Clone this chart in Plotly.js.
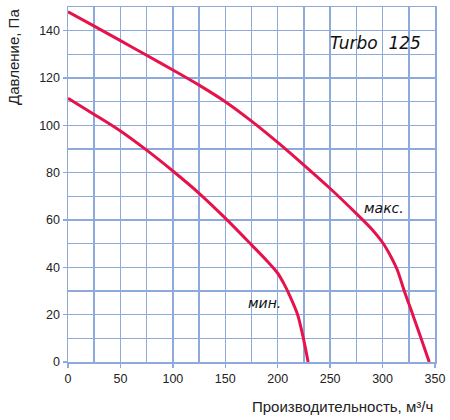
<!DOCTYPE html>
<html>
<head>
<meta charset="utf-8">
<script src="https://cdn.plot.ly/plotly-3.0.1.min.js"></script>
<style>html,body{margin:0;padding:0;background:#fff;}#chart{width:450px;height:420px;}</style>
</head>
<body>
<div id="chart"></div>
<script>
const maxFlow = [0, 25, 50, 75, 100, 125, 150, 175, 200, 225, 250, 275, 290, 300, 308, 314, 320.7, 328.8, 336.7, 344.5];
const maxPressure = [148, 141.9, 135.8, 129.6, 123.4, 117, 110, 101.8, 92.8, 83.2, 73.3, 62.7, 56, 50.5, 44.5, 39, 30, 20, 10, 0];
const minFlow = [0, 25, 50, 75, 100, 125, 150, 175, 190, 200, 206, 211, 219, 224.5, 229];
const minPressure = [111.4, 104.6, 97.6, 89.5, 80.7, 71.3, 60.8, 49.5, 42.6, 37.5, 33, 28.5, 20, 10, 0];
const xTicks = [0, 50, 100, 150, 200, 250, 300, 350];
const yTicks = [0, 20, 40, 60, 80, 100, 120, 140];

const lineColor = '#e6134b';
const gridColor = '#8eaadc';

const traces = [
  {x: maxFlow, y: maxPressure, mode: 'lines', line: {color: lineColor, width: 3, shape: 'spline', smoothing: 0.8}, hoverinfo: 'skip'},
  {x: minFlow, y: minPressure, mode: 'lines', line: {color: lineColor, width: 3, shape: 'spline', smoothing: 0.8}, hoverinfo: 'skip'}
];

const layout = {
  width: 450, height: 420,
  margin: {l: 68, r: 15, t: 7, b: 58},
  paper_bgcolor: '#fff', plot_bgcolor: '#fff',
  showlegend: false,
  font: {family: 'Liberation Sans, Arial, sans-serif', color: '#222', size: 12.5},
  xaxis: {
    range: [0, 350], tickvals: xTicks, ticktext: xTicks.map(String),
    showgrid: true, gridcolor: gridColor, gridwidth: 1.5,
    showline: true, linecolor: gridColor, linewidth: 1.5, mirror: true,
    ticks: 'outside', ticklen: 4, tickcolor: gridColor, tickwidth: 1.5,
    zeroline: false, fixedrange: true,
    minor: {dtick: 25, showgrid: true, gridcolor: gridColor, gridwidth: 1.5}
  },
  yaxis: {
    range: [0, 150], tickvals: yTicks, ticktext: yTicks.map(String),
    showgrid: true, gridcolor: gridColor, gridwidth: 1.5,
    showline: true, linecolor: gridColor, linewidth: 1.5, mirror: true,
    ticks: 'outside', ticklen: 4, tickcolor: gridColor, tickwidth: 1.5,
    zeroline: false, fixedrange: true,
    minor: {dtick: 10, showgrid: true, gridcolor: gridColor, gridwidth: 1.5}
  },
  annotations: [
    {text: 'Turbo&nbsp;&nbsp;125', x: 293, y: 134.7, xref: 'x', yref: 'y', showarrow: false,
     font: {family: 'DejaVu Sans, sans-serif', size: 17, color: '#111', style: 'italic'}},
    {text: 'макс.', x: 301, y: 65, xref: 'x', yref: 'y', showarrow: false,
     font: {family: 'DejaVu Sans, sans-serif', size: 14, color: '#111', style: 'italic'}},
    {text: 'мин.', x: 187, y: 25, xref: 'x', yref: 'y', showarrow: false,
     font: {family: 'DejaVu Sans, sans-serif', size: 14, color: '#111', style: 'italic'}},
    {text: 'Давление, Па', xref: 'paper', yref: 'paper', x: -0.15, y: 1.0, xanchor: 'center', yanchor: 'top',
     textangle: -90, showarrow: false, font: {family: 'Liberation Sans, Arial, sans-serif', size: 15, color: '#222'}},
    {text: 'Производительность, м³/ч', xref: 'paper', yref: 'paper', x: 1.0, y: -0.126, xanchor: 'right', yanchor: 'middle',
     showarrow: false, font: {family: 'Liberation Sans, Arial, sans-serif', size: 15, color: '#222'}}
  ]
};

Plotly.newPlot('chart', traces, layout, {staticPlot: true, displayModeBar: false});
</script>
</body>
</html>
